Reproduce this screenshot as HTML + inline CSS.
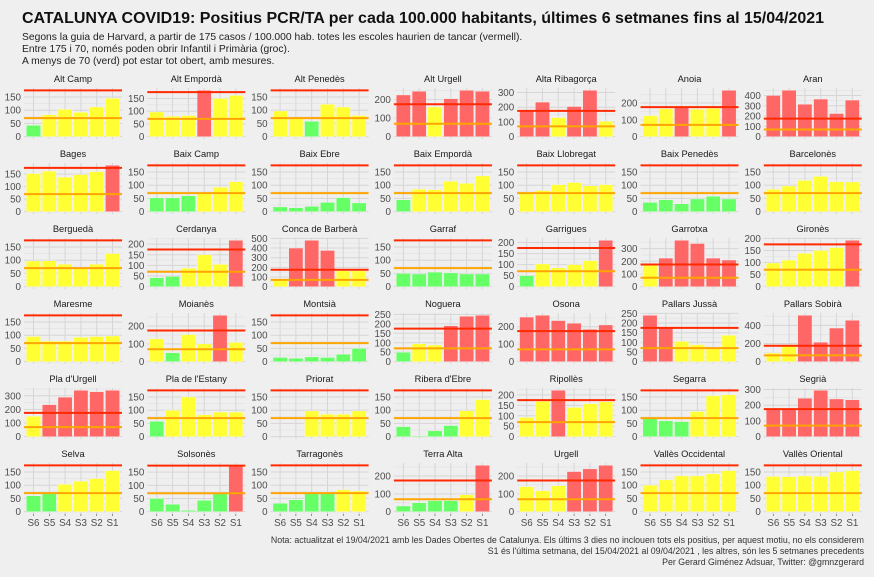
<!DOCTYPE html>
<html><head><meta charset="utf-8">
<style>
html,body{margin:0;padding:0;background:#efefef;}
body{width:874px;height:572px;overflow:hidden;font-family:"Liberation Sans",Arial,sans-serif;}
svg text{font-family:"Liberation Sans",Arial,sans-serif;}
</style></head>
<body>
<svg id="chart" width="874" height="572" xmlns="http://www.w3.org/2000/svg">
<rect width="874" height="572" fill="#efefef"/>
<text x="22" y="23" font-size="16" font-weight="bold" fill="#111">CATALUNYA COVID19: Positius PCR/TA per cada 100.000 habitants, últimes 6 setmanes fins al 15/04/2021</text>
<g font-size="10.3" fill="#222">
<text x="22" y="40">Segons la guia de Harvard, a partir de 175 casos / 100.000 hab. totes les escoles haurien de tancar (vermell).</text>
<text x="22" y="52">Entre 175 i 70, només poden obrir Infantil i Primària (groc).</text>
<text x="22" y="64">A menys de 70 (verd) pot estar tot obert, amb mesures.</text>
</g>
<g font-size="8.8" fill="#333" text-anchor="end">
<text x="864" y="543">Nota: actualitzat el 19/04/2021  amb les Dades Obertes de Catalunya. Els últims 3 dies no inclouen tots els positius, per aquest motiu, no els considerem</text>
<text x="864" y="554">S1 és l'última setmana, del 15/04/2021 al 09/04/2021 , les altres, són les 5 setmanes precedents</text>
<text x="864" y="565">Per Gerard Giménez Adsuar, Twitter: @gmnzgerard</text>
</g>
<g id="panels"></g>
</svg>
<script>
const comarques = ["Alt Camp","Alt Empordà","Alt Penedès","Alt Urgell","Alta Ribagorça","Anoia","Aran",
"Bages","Baix Camp","Baix Ebre","Baix Empordà","Baix Llobregat","Baix Penedès","Barcelonès",
"Berguedà","Cerdanya","Conca de Barberà","Garraf","Garrigues","Garrotxa","Gironès",
"Maresme","Moianès","Montsià","Noguera","Osona","Pallars Jussà","Pallars Sobirà",
"Pla d'Urgell","Pla de l'Estany","Priorat","Ribera d'Ebre","Ripollès","Segarra","Segrià",
"Selva","Solsonès","Tarragonès","Terra Alta","Urgell","Vallès Occidental","Vallès Oriental"];
const weeks = ["S6","S5","S4","S3","S2","S1"];
const casos = [
[43,83,103,92,112,145],[97,80,83,182,150,162],[97,70,58,122,112,80],[225,245,160,205,250,245],[180,235,130,205,315,105],[125,165,176,162,168,275],[400,450,315,365,225,355],
[152,162,138,148,160,185],[52,52,60,72,92,113],[18,15,20,35,53,33],[45,85,83,115,107,135],[72,80,102,110,98,102],[35,45,30,48,58,48],[85,97,118,133,113,112],
[97,98,85,72,85,125],[42,48,87,150,105,218],[75,400,480,375,165,165],[50,48,55,52,48,48],[50,103,85,100,118,210],[170,225,365,340,225,210],[98,110,138,150,162,192],
[95,78,78,92,95,97],[128,50,152,100,260,108],[16,13,18,16,28,50],[50,95,88,190,240,245],[255,265,235,220,185,210],[240,176,105,88,72,137],[95,170,510,215,370,455],
[150,235,290,340,330,340],[58,100,150,83,93,93],[0,0,97,85,85,97],[38,3,22,42,98,140],[92,170,222,140,158,168],[68,60,57,95,155,158],[180,180,245,295,240,235],
[60,68,103,115,125,155],[50,28,5,43,68,176],[32,45,68,68,83,78],[32,50,62,62,95,260],[140,118,145,225,240,260],[100,120,135,135,143,155],[133,132,135,133,150,155]];
const tickSteps = [50,50,50,100,100,100,100, 50,50,50,50,50,50,50, 50,50,100,50,50,100,50,
50,100,50,50,100,50,200, 100,50,50,50,50,50,100, 50,50,50,100,100,50,50];
const redLimit = 175, orangeLimit = 70;

const NS = "http://www.w3.org/2000/svg";
const root = document.getElementById("panels");
function mk(tag, attrs, parent){const e=document.createElementNS(NS,tag);for(const k in attrs)e.setAttribute(k,attrs[k]);parent.appendChild(e);return e;}
const PW=98, PH=51, X0=24, DX=123.3, Y0=88, DY=75;
comarques.forEach((name,i)=>{
  const col=i%7,row=Math.floor(i/7);
  const px=X0+col*DX, py=Y0+row*DY;
  const vals=casos[i];
  const vmax=Math.max(redLimit,...vals);
  const lo=-0.05*vmax, hi=1.05*vmax;
  const y=v=>py+PH-(v-lo)/(hi-lo)*PH;
  const x=k=>px+(k+1-0.4)/6.2*PW;
  const bw=0.9/6.2*PW;
  const g=mk("g",{},root);
  
  
  const st=mk("text",{x:px+PW/2,y:py-6,"font-size":"9.3","text-anchor":"middle",fill:"#1a1a1a"},g);
  st.textContent=name;
  
  
  const step=tickSteps[i];
  for(let t=step/2;t<=hi;t+=step){mk("line",{x1:px,x2:px+PW,y1:y(t),y2:y(t),stroke:"#e0e0e0","stroke-width":0.6},g);}
  for(let t=0;t<=hi;t+=step){
    mk("line",{x1:px,x2:px+PW,y1:y(t),y2:y(t),stroke:"#d6d6d6","stroke-width":1},g);
    const tl=mk("text",{x:px-3,y:y(t)+3.5,"font-size":"9.8","text-anchor":"end",fill:"#4d4d4d"},g);
    tl.textContent=t;
    
    
  }
  weeks.forEach((w,k)=>{mk("line",{x1:x(k),x2:x(k),y1:py,y2:py+PH,stroke:"#d6d6d6","stroke-width":1},g);});
  vals.forEach((v,k)=>{
    const c=v>=redLimit?"#ff6666":(v>=orangeLimit?"#ffff33":"#66ff66");
    const b=mk("rect",{x:x(k)-bw/2,y:y(v),width:bw,height:Math.max(0,y(0)-y(v)),fill:c,stroke:"#f4f4f4","stroke-width":0.4},g);
    
    
  });
  const ho=mk("line",{x1:px,x2:px+PW,y1:y(orangeLimit),y2:y(orangeLimit),stroke:"#ffa500","stroke-width":2},g);
  
  
  const hr=mk("line",{x1:px,x2:px+PW,y1:y(redLimit),y2:y(redLimit),stroke:"#ff2a00","stroke-width":2},g);
  
  
  if(row===5){
    weeks.forEach((w,k)=>{
      mk("line",{x1:x(k),x2:x(k),y1:py+PH,y2:py+PH+2,stroke:"#555","stroke-width":0.6},g);
      const xl=mk("text",{x:x(k),y:py+PH+12,"font-size":"9.8","text-anchor":"middle",fill:"#4d4d4d"},g);
      xl.textContent=w;
      
      
    });
  }
});
</script>
</body></html>
